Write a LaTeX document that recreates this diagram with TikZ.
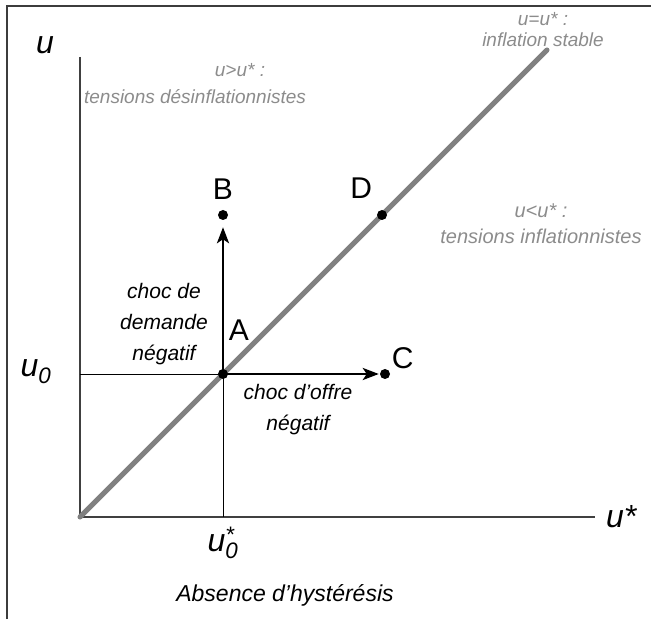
\documentclass[tikz,border=0pt]{standalone}
\usepackage{fontspec}
\setmainfont{Liberation Sans}
\usetikzlibrary{arrows.meta, positioning}
\definecolor{diaggray}{RGB}{128,128,128}
\definecolor{zonegray}{RGB}{140,140,140}
\definecolor{framegray}{RGB}{60,60,60}
\pgfdeclarelayer{background}
\pgfsetlayers{background,main}

\begin{document}
\begin{tikzpicture}[
  x=1pt, y=1pt,
  every node/.style={font=\itshape},
  axis/.style={line width=1.1pt, black!75},
  guide/.style={line width=0.9pt, black},
  stable/.style={line width=5pt, diaggray, line cap=round},
  shock/.style={-{Stealth[length=16pt, width=12pt, inset=4pt]}, line width=2.8pt},
  dot/.style={circle, fill=black, inner sep=0pt, minimum size=10pt},
  letter/.style={font=\fontsize{30}{32}\selectfont, inner sep=1pt},
  var/.style={font=\itshape\fontsize{32}{34}\selectfont, inner sep=1pt},
  zone/.style={text=zonegray, font=\itshape\fontsize{19}{24}\selectfont, align=center},
  shocklbl/.style={font=\itshape\fontsize{21}{31}\selectfont, align=center},
  node distance=4pt
]
\useasboundingbox (-80,-102) rectangle (571,517);
\draw[line width=2pt, framegray] (-73,-102) -- (-73,511) -- (571,511);

% axes and reference points
\coordinate (O) at (0,0);
\coordinate (ytop) at (0,460);
\coordinate (xend) at (515,0);
\coordinate (stabletop) at (467,467);
\coordinate (A0) at (143,0);
\coordinate (Ay) at (0,143);
\node[dot] (A) at (143,143) {};
\node[dot] (B) at (143,302) {};
\node[dot] (C) at (305,143) {};
\node[dot] (D) at (302,302) {};

\begin{pgfonlayer}{background}
\draw[axis] (ytop) -- (O) -- (xend);
\draw[guide] (Ay) -- (A.center) -- (A0);
\draw[stable] (O) -- (stabletop);
\draw[shock, shorten >=7pt] (A.center) -- (B);
\draw[shock, shorten >=1pt] (A.center) -- (C);
\end{pgfonlayer}

% point labels
\node[letter, above=9pt of B] (Blbl) {B};
\node[letter, above left=12pt and 5pt of D] (Dlbl) {D};
\node[letter, above right=0pt and 2pt of C] (Clbl) {C};
\node[letter, above right=29pt and 1pt of A] (Albl) {A};

% axis labels
\node[var] (ylbl) at (-35,472) {u};
\node[var, right=10pt of xend] (xlbl) {u*};
\node[var] (u0) at (-44,145) {u\textsubscript{0}};
\node[var, below=9pt of A0] (ustar0) {u\rlap{\textsuperscript{*}}\textsubscript{0}};

% shocks
\node[shocklbl] (demand) at (84,193) {choc de\\demande\\négatif};
\node[shocklbl] (supply) at (218,107) {choc d’offre\\négatif};

% zones
\node[zone] (above1) at (160,447) {u>u* :};
\node[zone] (above2) at (115,420) {tensions désinflationnistes};
\node[zone, font=\itshape\fontsize{19}{21}\selectfont] (on) at (463,487) {u=u* :\\inflation stable};
\node[zone, font=\itshape\fontsize{20}{26}\selectfont] (below) at (461,293) {u<u* :\\tensions inflationnistes};

\node[font=\itshape\fontsize{23}{26}\selectfont] (title) at (205,-78) {Absence d’hystérésis};
\end{tikzpicture}
\end{document}
